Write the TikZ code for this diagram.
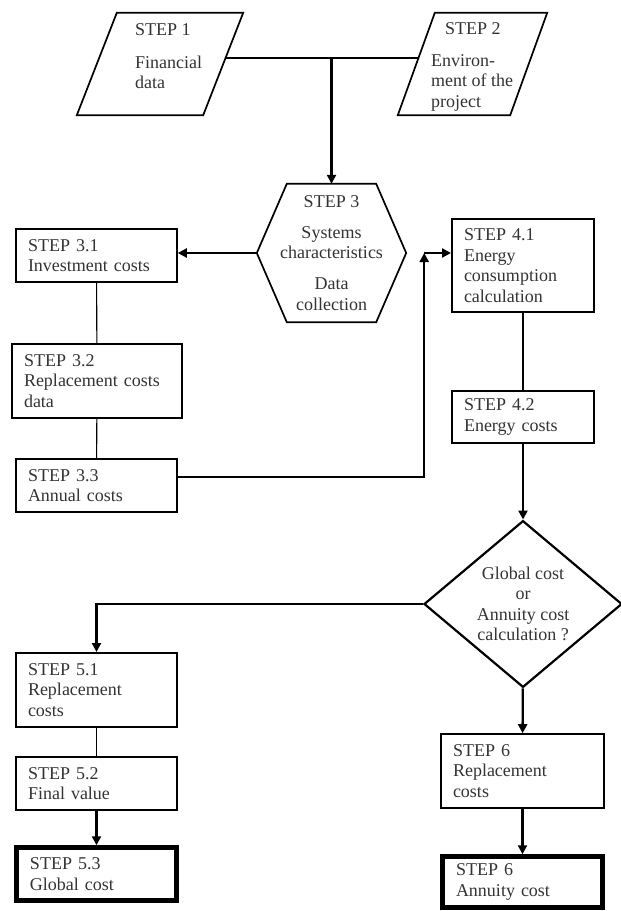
\documentclass[tikz,border=0pt]{standalone}
\usepackage{fontspec}
\setmainfont{Liberation Serif}
\usetikzlibrary{arrows.meta,calc,shapes.geometric}

\begin{document}
\begin{tikzpicture}[x=1pt,y=-1pt,
  every node/.style={font=\fontsize{18}{20.5}\selectfont,text=black!80},
  frame/.style={inner sep=0pt},
  edge/.style={line width=1.7pt,line join=miter},
  stepbox/.style={draw,line width=1.6pt,inner xsep=12pt,inner ysep=0pt,align=left},
  endbox/.style={stepbox,line width=4.5pt,inner xsep=13.5pt},
  txt/.style={inner sep=0pt,align=left},
  link/.style={line width=1.1pt},
  flow/.style={line width=2.3pt},
  arr/.style={flow,-{Triangle[length=9pt,width=9pt]}}]
\useasboundingbox (0,0) rectangle (621,911);

\node[frame,minimum width=166,minimum height=102] (s1) at (160,64) {};
\draw[edge] ([xshift=40pt]s1.north west) -- (s1.north east) -- ([xshift=-40pt]s1.south east) -- (s1.south west) -- cycle;
\node[txt,anchor=north west] (s1text) at (135,23) {STEP 1\\[12.5pt]Financial\\data};

\node[frame,minimum width=149,minimum height=102] (s2) at (472.5,64) {};
\draw[edge] ([xshift=37pt]s2.north west) -- (s2.north east) -- ([xshift=-37pt]s2.south east) -- (s2.south west) -- cycle;
\node[txt,anchor=north west] (s2text) at (431,22) {\hspace{14pt}STEP 2\\[11.5pt]Environ-\\ment of the\\project};

\node[frame,align=center,minimum width=149,minimum height=138] (s3) at (331.5,253) {STEP 3\\[10.5pt]Systems\\characteristics\\[10.5pt]Data\\collection};
\draw[edge] ([xshift=30pt]s3.north west) -- ([xshift=-30pt]s3.north east) -- (s3.east) -- ([xshift=-30pt]s3.south east) -- ([xshift=30pt]s3.south west) -- (s3.west) -- cycle;

\node[stepbox,minimum width=161,minimum height=53,text width=137pt] (s31) at (96.5,255.5) {STEP 3.1\\Investment costs};
\node[stepbox,minimum width=170,minimum height=74,text width=146pt] (s32) at (97,381) {STEP 3.2\\Replacement costs\\data};
\node[stepbox,minimum width=161,minimum height=53,text width=137pt] (s33) at (96.5,485.5) {STEP 3.3\\Annual costs};

\node[stepbox,line width=2pt,minimum width=142,minimum height=93,text width=118pt] (s41) at (523,265.5) {STEP 4.1\\Energy\\consumption\\calculation};
\node[stepbox,line width=2pt,minimum width=142,minimum height=52,text width=118pt] (s42) at (523,417) {STEP 4.2\\Energy costs};

\node[diamond,draw,line width=2.2pt,inner sep=0pt,align=center,minimum width=198,minimum height=152] (dia) at (523,604) {Global cost\\or\\Annuity cost\\calculation ?};

\node[stepbox,line width=2pt,minimum width=161,minimum height=74,text width=137pt] (s51) at (96.5,690) {STEP 5.1\\Replacement\\costs};
\node[stepbox,minimum width=161,minimum height=53,text width=137pt] (s52) at (96.5,783.5) {STEP 5.2\\Final value};
\node[endbox,minimum width=160,minimum height=53,text width=133pt] (s53) at (96.5,874) {STEP 5.3\\Global cost};

\node[stepbox,minimum width=163,minimum height=74,text width=139pt] (s6r) at (522.5,771) {STEP 6\\Replacement\\costs};
\node[endbox,minimum width=160,minimum height=51,text width=133pt] (s6a) at (522.5,882) {STEP 6\\Annuity cost};

\coordinate (s1out) at ($(s1.north east)!.44!([xshift=-40pt]s1.south east)$);
\coordinate (s2in) at ($([xshift=37pt]s2.north west)!.44!(s2.south west)$);
\coordinate (fork) at (s3.north |- s1out);
\coordinate (bend) at ([xshift=18pt]s3.east);

\draw[flow] (s1out) -- (s2in);
\draw[arr] (fork) -- (s3.north);
\draw[arr] (s3.west) -- (s3.west -| s31.east);
\draw[link] (s31) -- (s32);
\draw[link] (s32) -- (s33);
\draw[arr] ([yshift=8.5pt]s33.east) -| (bend);
\draw[arr] (bend) -- (bend -| s41.west);
\draw[flow] (s41) -- (s42);
\draw[arr] (s42) -- (dia);
\draw[arr] (dia.west) -| (s51.north);
\draw[link] (s51) -- (s52);
\draw[arr] (s52) -- (s53);
\draw[arr] (dia) -- (s6r);
\draw[arr] (s6r) -- (s6a);
\end{tikzpicture}
\end{document}
